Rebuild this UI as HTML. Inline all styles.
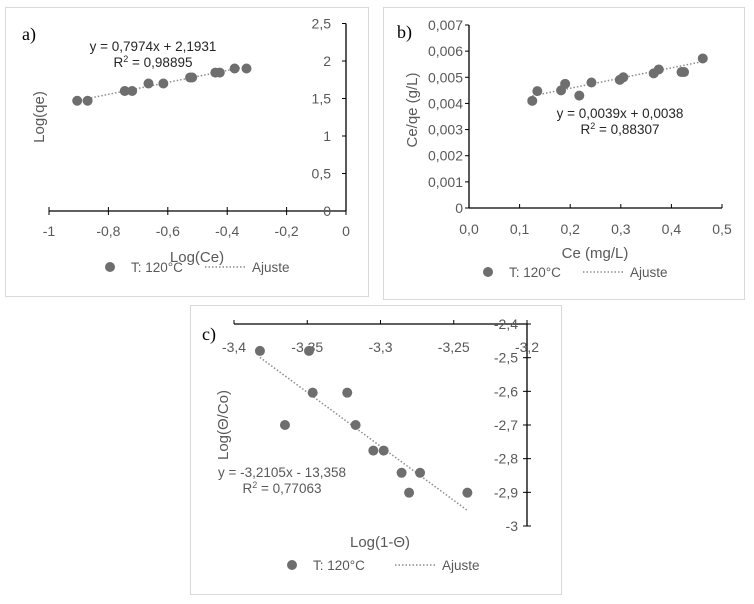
<!DOCTYPE html>
<html><head><meta charset="utf-8"><style>
html,body{margin:0;padding:0;background:#fff;}
svg{display:block;font-family:"Liberation Sans",sans-serif;}
</style></head><body>
<svg id="chart" width="754" height="604" viewBox="0 0 754 604" xmlns="http://www.w3.org/2000/svg"></svg>
<script>
// Panel a data
const aX = [-0.905,-0.87,-0.745,-0.72,-0.665,-0.615,-0.525,-0.518,-0.44,-0.425,-0.375,-0.335];
const aY = [1.47,1.47,1.6,1.6,1.7,1.7,1.78,1.78,1.845,1.845,1.9,1.9];
const aXTicks = [-1,-0.8,-0.6,-0.4,-0.2,0];
const aXTickLabels = ["-1","-0,8","-0,6","-0,4","-0,2","0"];
const aYTicks = [0,0.5,1,1.5,2,2.5];
const aYTickLabels = ["0","0,5","1","1,5","2","2,5"];
const aFit = [0.7974, 2.1931];
// Panel b data
const bX = [0.125,0.135,0.182,0.19,0.218,0.242,0.298,0.305,0.365,0.375,0.42,0.425,0.462];
const bY = [0.0041,0.00447,0.0045,0.00475,0.0043,0.0048,0.0049,0.005,0.00515,0.0053,0.0052,0.0052,0.00572];
const bXTicks = [0,0.1,0.2,0.3,0.4,0.5];
const bXTickLabels = ["0,0","0,1","0,2","0,3","0,4","0,5"];
const bYTicks = [0,0.001,0.002,0.003,0.004,0.005,0.006,0.007];
const bYTickLabels = ["0","0,001","0,002","0,003","0,004","0,005","0,006","0,007"];
const bFit = [0.0039, 0.0038];
// Panel c data
const cX = [-3.3823,-3.3488,-3.3463,-3.3227,-3.3652,-3.317,-3.3049,-3.2978,-3.2856,-3.273,-3.2805,-3.2407];
const cY = [-2.48,-2.48,-2.604,-2.604,-2.70,-2.70,-2.776,-2.776,-2.842,-2.842,-2.901,-2.901];
const cXTicks = [-3.4,-3.35,-3.3,-3.25,-3.2];
const cXTickLabels = ["-3,4","-3,35","-3,3","-3,25","-3,2"];
const cYTicks = [-3,-2.9,-2.8,-2.7,-2.6,-2.5,-2.4];
const cYTickLabels = ["-3","-2,9","-2,8","-2,7","-2,6","-2,5","-2,4"];
const cFit = [-3.2105, -13.358];

const svg = document.getElementById('chart');
const NS = 'http://www.w3.org/2000/svg';
function mk(tag, attrs, parent, text){
  const e = document.createElementNS(NS, tag);
  for (const k in attrs) e.setAttribute(k, attrs[k]);
  if (text !== undefined) e.textContent = text;
  (parent||svg).appendChild(e);
  return e;
}
const GRAY = '#595959', DOT = '#6e6e6e';

function panel(cfg){
  const g = mk('g', {});
  
  
  const b = mk('rect', {x:cfg.box[0]+0.5, y:cfg.box[1]+0.5, width:cfg.box[2], height:cfg.box[3], fill:'#fff', stroke:'#d9d9d9', 'stroke-width':1}, g);
  
  
  const sx = v => cfg.xr[0] + (v - cfg.xd[0]) / (cfg.xd[1] - cfg.xd[0]) * (cfg.xr[1] - cfg.xr[0]);
  const sy = v => cfg.yr[0] + (v - cfg.yd[0]) / (cfg.yd[1] - cfg.yd[0]) * (cfg.yr[1] - cfg.yr[0]);
  const xa = mk('line', {x1:sx(cfg.xd[0]), x2:sx(cfg.xd[1]), y1:cfg.xAxisY, y2:cfg.xAxisY, stroke:'#000', 'stroke-width':1.3}, g);
  
  
  const ya = mk('line', {x1:cfg.yAxisX, x2:cfg.yAxisX, y1:sy(cfg.yd[0]), y2:sy(cfg.yd[1]), stroke:'#000', 'stroke-width':1.3}, g);
  
  
  cfg.xt.forEach((v,i)=>{
    mk('line', {x1:sx(v), x2:sx(v), y1:cfg.xAxisY-4, y2:cfg.xAxisY+(cfg.xTickDown?4:0), stroke:'#000','stroke-width':1}, g);
    const t = mk('text', {x:sx(v), y:cfg.xLabY, 'text-anchor':'middle', 'font-size':14, fill:GRAY}, g, cfg.xl[i]);
    
    
  });
  cfg.yt.forEach((v,i)=>{
    mk('line', {x1:cfg.yAxisX-4, x2:cfg.yAxisX+(cfg.yTickRight?4:0), y1:sy(v), y2:sy(v), stroke:'#000','stroke-width':1}, g);
    const t = mk('text', {x:cfg.yLabX, y:sy(v)+5, 'text-anchor':'end', 'font-size':14, fill:GRAY}, g, cfg.yl[i]);
    
    
  });
  const x0 = Math.min(...cfg.px), x1 = Math.max(...cfg.px);
  const tl = mk('line', {x1:sx(x0), y1:sy(cfg.fit[0]*x0+cfg.fit[1]), x2:sx(x1), y2:sy(cfg.fit[0]*x1+cfg.fit[1]), stroke:'#8c8c8c','stroke-width':1.5,'stroke-dasharray':'1.5 2'}, g);
  
  
  cfg.px.forEach((v,i)=>{
    const c = mk('circle', {cx:sx(v), cy:sy(cfg.py[i]), r:5, fill:DOT}, g);
    
    
  });
  const e1 = mk('text', {x:cfg.eq[0], y:cfg.eq[1], 'text-anchor':'middle','font-size':13.5, fill:cfg.eqColor||'#404040'}, g, cfg.eqText);
  
  
  const e2 = mk('text', {x:cfg.eq[0], y:cfg.eq[1]+16, 'text-anchor':'middle','font-size':13.5, fill:cfg.eqColor||'#404040'}, g);
  
  
  e2.innerHTML = 'R<tspan font-size="9" dy="-5">2</tspan><tspan dy="5"> = '+cfg.r2+'</tspan>';
  const lab = mk('text', {x:cfg.tag[0], y:cfg.tag[1], 'font-family':'Liberation Serif, serif', 'font-size':18, fill:'#000'}, g, cfg.tagText);
  
  
  const xt = mk('text', {x:cfg.xTitle[0], y:cfg.xTitle[1], 'text-anchor':'middle','font-size':15, fill:GRAY}, g, cfg.xTitleText);
  
  
  const yt = mk('text', {x:0, y:0, 'text-anchor':'middle','font-size':15, fill:GRAY, transform:`translate(${cfg.yTitle[0]},${cfg.yTitle[1]}) rotate(-90)`}, g, cfg.yTitleText);
  
  
  const L = cfg.leg;
  const lg = mk('g', {}, g);
  
  
  mk('circle', {cx:L[0], cy:L[1], r:5, fill:DOT}, lg);
  mk('text', {x:L[0]+21, y:L[1]+5, 'font-size':13.5, fill:GRAY}, lg, 'T: 120°C');
  mk('line', {x1:L[2], x2:L[2]+40, y1:L[1], y2:L[1], stroke:'#8c8c8c','stroke-width':1.5,'stroke-dasharray':'1.5 2'}, lg);
  mk('text', {x:L[2]+47, y:L[1]+5, 'font-size':13.5, fill:GRAY}, lg, 'Ajuste');
}

panel({name:'chart-a', box:[5,7,363,289], xd:[-1,0], xr:[49,346], yd:[0,2.5], yr:[211,23.5],
  xAxisY:211, yAxisX:346, xt:aXTicks, xl:aXTickLabels, yt:aYTicks, yl:aYTickLabels, xTickDown:true,
  xLabY:236, yLabX:331, px:aX, py:aY, fit:aFit, eq:[153,51], eqText:'y = 0,7974x + 2,1931', r2:'0,98895', eqColor:'#262626',
  tag:[22,40], tagText:'a)', xTitle:[197,262], xTitleText:'Log(Ce)', yTitle:[44,117], yTitleText:'Log(qe)', leg:[110,267,205]});

panel({name:'chart-b', box:[383,7,361,292], xd:[0,0.5], xr:[469,722], yd:[0,0.007], yr:[208,25],
  xAxisY:208, yAxisX:469, xt:bXTicks, xl:bXTickLabels, yt:bYTicks, yl:bYTickLabels,
  xLabY:234, yLabX:463, px:bX, py:bY, fit:bFit, eq:[620,118], eqText:'y = 0,0039x + 0,0038', r2:'0,88307', eqColor:'#262626',
  tag:[397,38], tagText:'b)', xTitle:[595,258], xTitleText:'Ce (mg/L)', yTitle:[417,110], yTitleText:'Ce/qe (g/L)', leg:[488,272,583]});

panel({name:'chart-c', box:[190,305,371,289], xd:[-3.4,-3.2], xr:[234,527], yd:[-2.4,-3], yr:[324,526],
  xAxisY:324, yAxisX:527, xt:cXTicks, xl:cXTickLabels, yt:cYTicks, yl:cYTickLabels, yTickRight:true,
  xLabY:352, yLabX:518, px:cX, py:cY, fit:cFit, eq:[282,477], eqText:'y = -3,2105x - 13,358', r2:'0,77063', eqColor:GRAY,
  tag:[202,340], tagText:'c)', xTitle:[380,547], xTitleText:'Log(1-Θ)', yTitle:[228,425], yTitleText:'Log(Θ/Co)', leg:[292,565,395]});
</script>
</body></html>
